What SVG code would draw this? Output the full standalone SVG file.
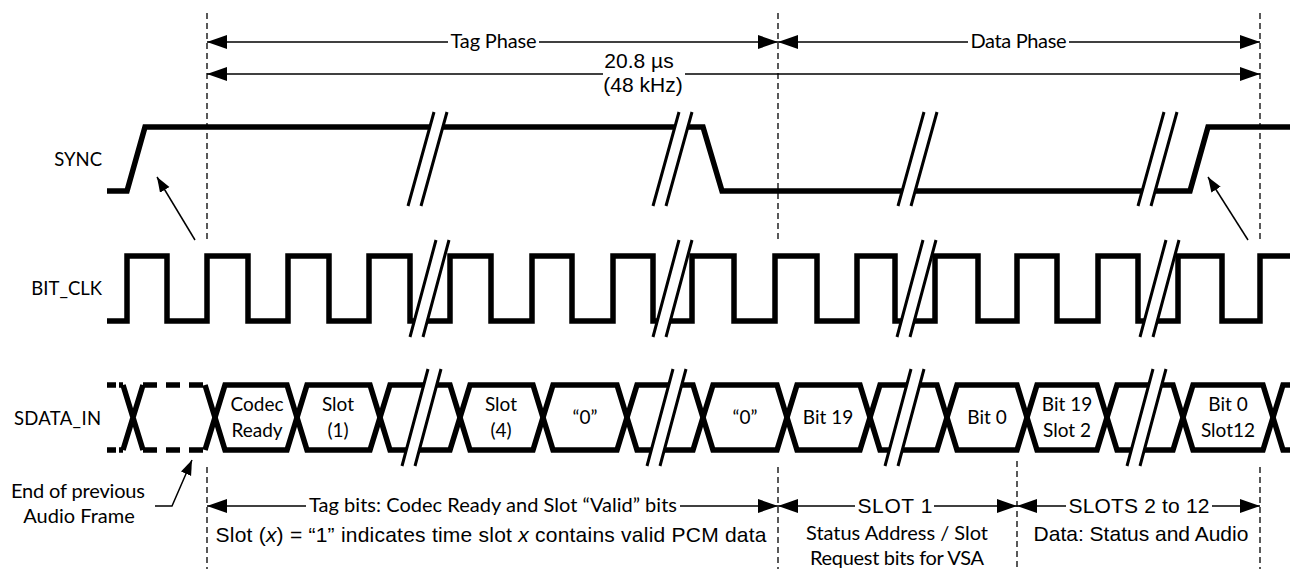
<svg xmlns="http://www.w3.org/2000/svg" width="1290" height="569" viewBox="0 0 1290 569">
<style>
.cal{font-family:Lato,"Open Sans","Liberation Sans",sans-serif;font-size:20px;fill:#000}
.row{font-size:18.5px}
.bub{font-size:19px}
.ari{font-family:"Liberation Sans",Arial,sans-serif;font-size:21px;fill:#000}
.mid{text-anchor:middle}
.end{text-anchor:end}
.wave{fill:none;stroke:#000;stroke-width:5.5;stroke-linejoin:miter;stroke-linecap:butt}
.brk{fill:none;stroke:#000;stroke-width:3}
.gap{fill:#fff;stroke:none}
.dash{fill:none;stroke:#000;stroke-width:1.3;stroke-dasharray:6,4}
.dim{fill:none;stroke:#000;stroke-width:1.4}
.thin{fill:none;stroke:#000;stroke-width:1.5}
</style>
<defs>
<marker id="ah" markerUnits="userSpaceOnUse" markerWidth="22" markerHeight="16" refX="20" refY="7" orient="auto-start-reverse"><path d="M0,0 L20,7 L0,14 z" fill="#000"/></marker>
<marker id="sah" markerUnits="userSpaceOnUse" markerWidth="18" markerHeight="14" refX="15" refY="5.5" orient="auto"><path d="M0,0 L15,5.5 L0,11 z" fill="#000"/></marker>
</defs>
<rect width="1290" height="569" fill="#fff"/>

<g id="guides">
<path class="dash" d="M207,13 V240 M778,13 V240 M1260,13 V240 M207,467 V569 M778,467 V569 M1017,461 V569 M1260,467 V569"/>
</g>

<g id="connectors">
<line class="dim" x1="207" y1="42" x2="448" y2="42" marker-start="url(#ah)"/>
<line class="dim" x1="539" y1="42" x2="778" y2="42" marker-end="url(#ah)"/>
<line class="dim" x1="778" y1="42" x2="968" y2="42" marker-start="url(#ah)"/>
<line class="dim" x1="1069" y1="42" x2="1260" y2="42" marker-end="url(#ah)"/>
<line class="dim" x1="207" y1="74" x2="603" y2="74" marker-start="url(#ah)"/>
<line class="dim" x1="685" y1="74" x2="1260" y2="74" marker-end="url(#ah)"/>
<line class="dim" x1="207" y1="506" x2="306" y2="506" marker-start="url(#ah)"/>
<line class="dim" x1="680" y1="506" x2="778" y2="506" marker-end="url(#ah)"/>
<line class="dim" x1="778" y1="506" x2="855" y2="506" marker-start="url(#ah)"/>
<line class="dim" x1="934" y1="506" x2="1017" y2="506" marker-end="url(#ah)"/>
<line class="dim" x1="1017" y1="506" x2="1066" y2="506" marker-start="url(#ah)"/>
<line class="dim" x1="1212" y1="506" x2="1260" y2="506" marker-end="url(#ah)"/>
<line class="thin" x1="195" y1="240" x2="157" y2="177" marker-end="url(#sah)"/>
<line class="thin" x1="1248" y1="240" x2="1208" y2="177" marker-end="url(#sah)"/>
<polyline class="thin" points="155,506 172,506 192,460" marker-end="url(#sah)"/>
</g>

<g id="phase-labels">
<text class="cal mid" x="493.5" y="48" textLength="86">Tag Phase</text>
<text class="cal mid" x="1018.5" y="48" textLength="96">Data Phase</text>
<text class="ari mid" x="639" y="68">20.8 µs</text>
<text class="ari mid" x="643" y="92">(48 kHz)</text>
</g>

<g id="sync">
<text class="cal row end" x="102" y="166">SYNC</text>
<path class="wave" d="M107,191 H127 L145,127 H703 L722,191 H1190 L1208,127 H1290"/>
<path class="gap" d="M408,206 L421,206 L447,112 L434,112 Z M653,206 L666,206 L692,112 L679,112 Z M898,206 L911,206 L937,112 L924,112 Z M1138,206 L1151,206 L1177,112 L1164,112 Z"/>
<path class="brk" d="M408,206 L434,112 M421,206 L447,112 M653,206 L679,112 M666,206 L692,112 M898,206 L924,112 M911,206 L937,112 M1138,206 L1164,112 M1151,206 L1177,112"/>
</g>

<g id="bit_clk">
<text class="cal row end" x="102" y="295">BIT_CLK</text>
<path class="wave" d="M107,321 H127 V256 H167 V321 H207 V256 H248 V321 H288 V256 H329 V321 H369 V256 H410 V321 H450 V256 H491 V321 H532 V256 H572 V321 H613 V256 H653 V321 H692 V256 H734 V321 H775 V256 H817 V321 H857 V256 H895 V321 H935 V256 H978 V321 H1017 V256 H1057 V321 H1098 V256 H1138 V321 H1178 V256 H1222 V321 H1260 V256 H1290"/>
<path class="gap" d="M410,337 L423,337 L449,240 L436,240 Z M653,337 L666,337 L692,240 L679,240 Z M897,337 L910,337 L936,240 L923,240 Z M1140,337 L1153,337 L1179,240 L1166,240 Z"/>
<path class="brk" d="M410,337 L436,240 M423,337 L449,240 M653,337 L679,240 M666,337 L692,240 M897,337 L923,240 M910,337 L936,240 M1140,337 L1166,240 M1153,337 L1179,240"/>
</g>

<g id="sdata_in">
<text class="cal row end" x="101" y="425" textLength="87">SDATA_IN</text>
<path class="wave" d="M107,385 H123 M107,450 H123" stroke-dasharray="9,3"/>
<path class="wave" d="M123,385 L143,450 M123,450 L143,385"/>
<path class="wave" d="M143,385 H205 M143,450 H205" stroke-dasharray="14,9"/>
<path class="wave" d="M205,385 L225,450 H287 L307,385 H370 L390,450 H450 L470,385 H533 L553,450 H617 L637,385 H693 L713,450 H777 L797,385 H860 L880,450 H937 L957,385 H1017 L1037,450 H1097 L1117,385 H1173 L1193,450 H1263 L1283,385 H1290"/>
<path class="wave" d="M205,450 L225,385 H287 L307,450 H370 L390,385 H450 L470,450 H533 L553,385 H617 L637,450 H693 L713,385 H777 L797,450 H860 L880,385 H937 L957,450 H1017 L1037,385 H1097 L1117,450 H1173 L1193,385 H1263 L1283,450 H1290"/>
<path class="gap" d="M402,466 L415,466 L441,369 L428,369 Z M647,466 L660,466 L686,369 L673,369 Z M885,466 L898,466 L924,369 L911,369 Z M1127,466 L1140,466 L1166,369 L1153,369 Z"/>
<path class="brk" d="M402,466 L428,369 M415,466 L441,369 M647,466 L673,369 M660,466 L686,369 M885,466 L911,369 M898,466 L924,369 M1127,466 L1153,369 M1140,466 L1166,369"/>
<text class="cal bub mid" x="257" y="411">Codec</text>
<text class="cal bub mid" x="257" y="437">Ready</text>
<text class="cal bub mid" x="338" y="411">Slot</text>
<text class="cal bub mid" x="338" y="437">(1)</text>
<text class="cal bub mid" x="501" y="411">Slot</text>
<text class="cal bub mid" x="501" y="437">(4)</text>
<text class="cal bub mid" x="585" y="424">“0”</text>
<text class="cal bub mid" x="745" y="424">“0”</text>
<text class="cal bub mid" x="828" y="424">Bit 19</text>
<text class="cal bub mid" x="987" y="424">Bit 0</text>
<text class="cal bub mid" x="1067" y="411">Bit 19</text>
<text class="cal bub mid" x="1067" y="437">Slot 2</text>
<text class="cal bub mid" x="1228" y="411">Bit 0</text>
<text class="cal bub mid" x="1228" y="437">Slot12</text>
</g>

<g id="end-of-frame">
<text class="cal mid" x="78" y="498" textLength="134">End of previous</text>
<text class="cal mid" x="79" y="523">Audio Frame</text>
</g>

<g id="tag-bits">
<text class="cal mid" x="493" y="512" textLength="368">Tag bits: Codec Ready and Slot “Valid” bits</text>
<text class="ari mid" x="491" y="542" textLength="551">Slot (<tspan font-style="italic">x</tspan>) = “1” indicates time slot <tspan font-style="italic">x</tspan> contains valid PCM data</text>
</g>

<g id="slot1">
<text class="ari mid" x="895" y="513" textLength="75">SLOT 1</text>
<text class="cal mid" x="897" y="540" textLength="182">Status Address / Slot</text>
<text class="cal mid" x="897" y="565" textLength="174">Request bits for VSA</text>
</g>

<g id="slots2-12">
<text class="ari mid" x="1139" y="513" textLength="141">SLOTS 2 to 12</text>
<text class="ari mid" x="1141" y="541">Data: Status and Audio</text>
</g>
</svg>
